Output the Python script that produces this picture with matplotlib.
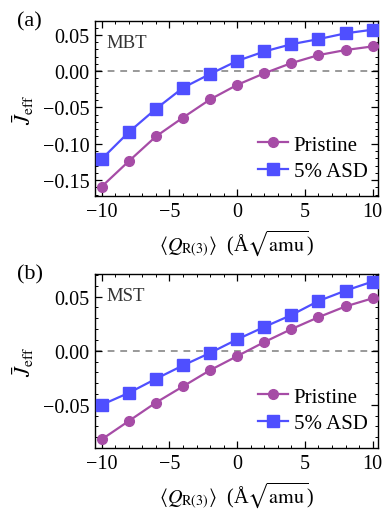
import matplotlib
matplotlib.use("Agg")
import matplotlib.pyplot as plt
from matplotlib.ticker import MultipleLocator

plt.rcParams['font.family'] = ['Liberation Serif', 'DejaVu Serif']
plt.rcParams['mathtext.fontset'] = 'stix'

Q = [-10, -8, -6, -4, -2, 0, 2, 4, 6, 8, 10]

# MBT
mbt_pristine = [-0.159, -0.124, -0.090, -0.064, -0.039, -0.019, -0.003, 0.011, 0.022, 0.029, 0.034]
mbt_asd = [-0.121, -0.084, -0.052, -0.023, -0.004, 0.014, 0.027, 0.037, 0.044, 0.052, 0.057]

# MST
mst_pristine = [-0.082, -0.065, -0.048, -0.033, -0.018, -0.005, 0.008, 0.020, 0.031, 0.041, 0.0485]
mst_asd = [-0.050, -0.039, -0.026, -0.0136, -0.002, 0.0105, 0.022, 0.033, 0.046, 0.0556, 0.064]

purple = '#a64ca6'
blue = '#4f4fff'


def fmt(s):
    return s.replace('-', '\u2212')


fig = plt.figure(figsize=(3.83, 5.10), dpi=100)
ax1 = fig.add_axes([0.248, 0.6137, 0.739, 0.3432])
ax2 = fig.add_axes([0.248, 0.1196, 0.739, 0.3412])

panels = [
    (ax1, mbt_pristine, mbt_asd, 'MBT', '(a)', (-0.172, 0.069)),
    (ax2, mst_pristine, mst_asd, 'MST', '(b)', (-0.090, 0.071)),
]

for ax, pri, asd, name, lab, ylim in panels:
    ax.axhline(0, color='#999999', ls=(0, (3.5, 3)), lw=1.4, zorder=1)
    ax.plot(Q, pri, '-o', color=purple, ms=7, lw=1.6, label='Pristine', zorder=3)
    ax.plot(Q, asd, '-s', color=blue, ms=8, lw=1.6, label='5% ASD', zorder=3)
    ax.set_xlim(-10.5, 10.4)
    ax.set_ylim(*ylim)
    ax.xaxis.set_major_locator(MultipleLocator(5))
    ax.xaxis.set_minor_locator(MultipleLocator(1))
    ax.yaxis.set_major_locator(MultipleLocator(0.05))
    ax.yaxis.set_minor_locator(MultipleLocator(0.01))
    ax.yaxis.set_major_formatter(lambda v, p: fmt('%.2f' % v))
    ax.xaxis.set_major_formatter(lambda v, p: fmt('%d' % round(v)))
    ax.tick_params(which='both', direction='in', top=True, right=True, labelsize=14.5)
    ax.tick_params(which='major', length=5, width=0.9, pad=4)
    ax.tick_params(which='minor', length=2.5, width=0.7)
    for s in ax.spines.values():
        s.set_linewidth(1.0)
    ax.set_ylabel(r'$\bar{J}_{\mathrm{eff}}$', fontsize=16, labelpad=5)
    ax.set_xlabel(r'$\langle Q_{\mathrm{R(3)}}\rangle$  (Å$\sqrt{\mathrm{amu}}$)', fontsize=14.5, labelpad=5)
    ax.text(0.04, 0.925, name, transform=ax.transAxes, fontsize=13.5, va='top', ha='left', color='#333333')
    ax.text(-0.275, 1.0, lab, transform=ax.transAxes, fontsize=16, va='center', ha='left')
    ax.legend(loc='lower right', frameon=False, fontsize=15, handlelength=1.4,
              handletextpad=0.3, labelspacing=0.35, borderaxespad=0.3,
              bbox_to_anchor=(1.015, 0.0))

fig.savefig('out.png', dpi=100)
